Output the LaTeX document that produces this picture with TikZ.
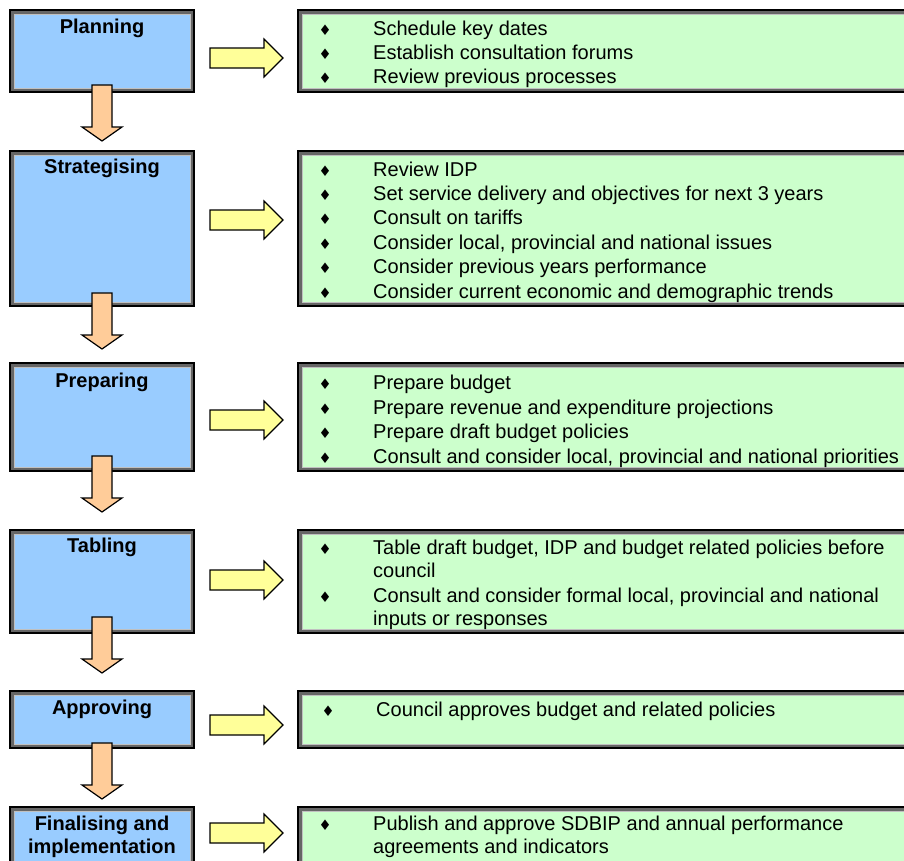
\documentclass[tikz,border=0pt]{standalone}
\usepackage{fontspec}
\setmainfont{Liberation Sans}
\newfontfamily\symfont{DejaVu Sans}
\definecolor{bluef}{HTML}{99CCFF}
\definecolor{greenf}{HTML}{CCFFCC}
\definecolor{yellowf}{HTML}{FFFF99}
\definecolor{orangef}{HTML}{FFCC99}
\definecolor{bdark}{HTML}{666666}
\definecolor{blight}{HTML}{C0C0C0}
\tikzset{
  framebox/.style={draw=black, line width=2pt, rectangle, inner sep=0pt, outer sep=0pt,
    path picture={
      \draw[line width=7pt, draw=bdark] (path picture bounding box.south west) rectangle (path picture bounding box.north east);
      \draw[line width=1pt, draw=blight] ([shift={(4pt,4pt)}]path picture bounding box.south west) rectangle ([shift={(-4pt,-4pt)}]path picture bounding box.north east);
    }},
  leftbox/.style={framebox, fill=bluef, minimum width=184pt},
  rightbox/.style={framebox, fill=greenf, minimum width=617pt},
  stagelabel/.style={font=\fontsize{20}{23.5}\selectfont\bfseries, anchor=base, inner sep=0pt},
  itemtext/.style={font=\fontsize{20}{23.5}\selectfont, anchor=base west, inner sep=0pt},
  bul/.style={font=\symfont\fontsize{14.5}{16}\selectfont, anchor=base, inner sep=0pt},
  arrline/.style={draw=black, line width=1.2pt, line join=miter},
  downarr/.pic={\draw[arrline, fill=orangef] (-10,0) -- (10,0) -- (10,42) -- (20,42) -- (0,56) -- (-20,42) -- (-10,42) -- cycle;},
  rightarr/.pic={\draw[arrline, fill=yellowf] (0,-10) -- (54,-10) -- (54,-19) -- (73,0) -- (54,19) -- (54,10) -- (0,10) -- cycle;}
}
\newcommand\bline[3]{\node[bul] (#1b) at (325,#2) {♦}; \node[itemtext] (#1) at (373,#2) {#3};}
\newcommand\contline[3]{\node[itemtext] (#1) at (373,#2) {#3};}
\begin{document}
\begin{tikzpicture}[x=1pt,y=-1pt]
\useasboundingbox (0,0) rectangle (904,860);
\clip (0,0) rectangle (904,860);
\fill[white] (0,0) rectangle (904,860);

% left boxes
\node[leftbox, minimum height=82pt] (b1) at (102,51) {};
\node[leftbox, minimum height=155pt] (b2) at (102,228.5) {};
\node[leftbox, minimum height=108pt] (b3) at (102,417) {};
\node[leftbox, minimum height=103pt] (b4) at (102,581.5) {};
\node[leftbox, minimum height=57pt] (b5) at (102,719.5) {};
\node[leftbox, minimum height=100pt] (b6) at (102,857) {};

% right boxes
\node[rightbox, minimum height=82pt] (r1) at (606.5,51) {};
\node[rightbox, minimum height=155pt] (r2) at (606.5,228.5) {};
\node[rightbox, minimum height=108pt] (r3) at (606.5,417) {};
\node[rightbox, minimum height=103pt] (r4) at (606.5,581.5) {};
\node[rightbox, minimum height=57pt] (r5) at (606.5,719.5) {};
\node[rightbox, minimum height=100pt] (r6) at (606.5,857) {};

% stage labels
\node[stagelabel] (l1) at (102,33) {Planning};
\node[stagelabel] (l2) at (102,173) {Strategising};
\node[stagelabel] (l3) at (102,387) {Preparing};
\node[stagelabel] (l4) at (102,552) {Tabling};
\node[stagelabel] (l5) at (102,714) {Approving};
\node[stagelabel] (l6) at (102,830) {Finalising and};
\node[stagelabel] (l6b) at (102,853) {implementation};

% down arrows
\pic (d1) at (102,85) {downarr};
\pic (d2) at (102,293) {downarr};
\pic (d3) at (102,456) {downarr};
\pic (d4) at (102,617) {downarr};
\pic (d5) at (102,743) {downarr};

% right arrows
\pic (a1) at (210,58) {rightarr};
\pic (a2) at (210,220) {rightarr};
\pic (a3) at (210,420) {rightarr};
\pic (a4) at (210,580) {rightarr};
\pic (a5) at (210,725) {rightarr};
\pic (a6) at (210,833) {rightarr};

% items
\bline{p1}{35.5}{Schedule key dates}
\bline{p2}{59.5}{Establish consultation forums}
\bline{p3}{83.5}{Review previous processes}

\bline{s1}{176.5}{Review IDP}
\bline{s2}{200.5}{Set service delivery and objectives for next 3 years}
\bline{s3}{224.5}{Consult on tariffs}
\bline{s4}{249}{Consider local, provincial and national issues}
\bline{s5}{273.5}{Consider previous years performance}
\bline{s6}{298}{Consider current economic and demographic trends}

\bline{q1}{389.5}{Prepare budget}
\bline{q2}{414}{Prepare revenue and expenditure projections}
\bline{q3}{438.5}{Prepare draft budget policies}
\bline{q4}{463}{Consult and consider local, provincial and national priorities}

\bline{t1}{554.5}{Table draft budget, IDP and budget related policies before}
\contline{t1c}{577.5}{council}
\bline{t2}{602}{Consult and consider formal local, provincial and national}
\contline{t2c}{625.5}{inputs or responses}

\node[bul] (u1b) at (328,716) {♦};
\node[itemtext] (u1) at (376,716) {Council approves budget and related policies};

\bline{f1}{830.5}{Publish and approve SDBIP and annual performance}
\contline{f1c}{853.5}{agreements and indicators}
\end{tikzpicture}
\end{document}
